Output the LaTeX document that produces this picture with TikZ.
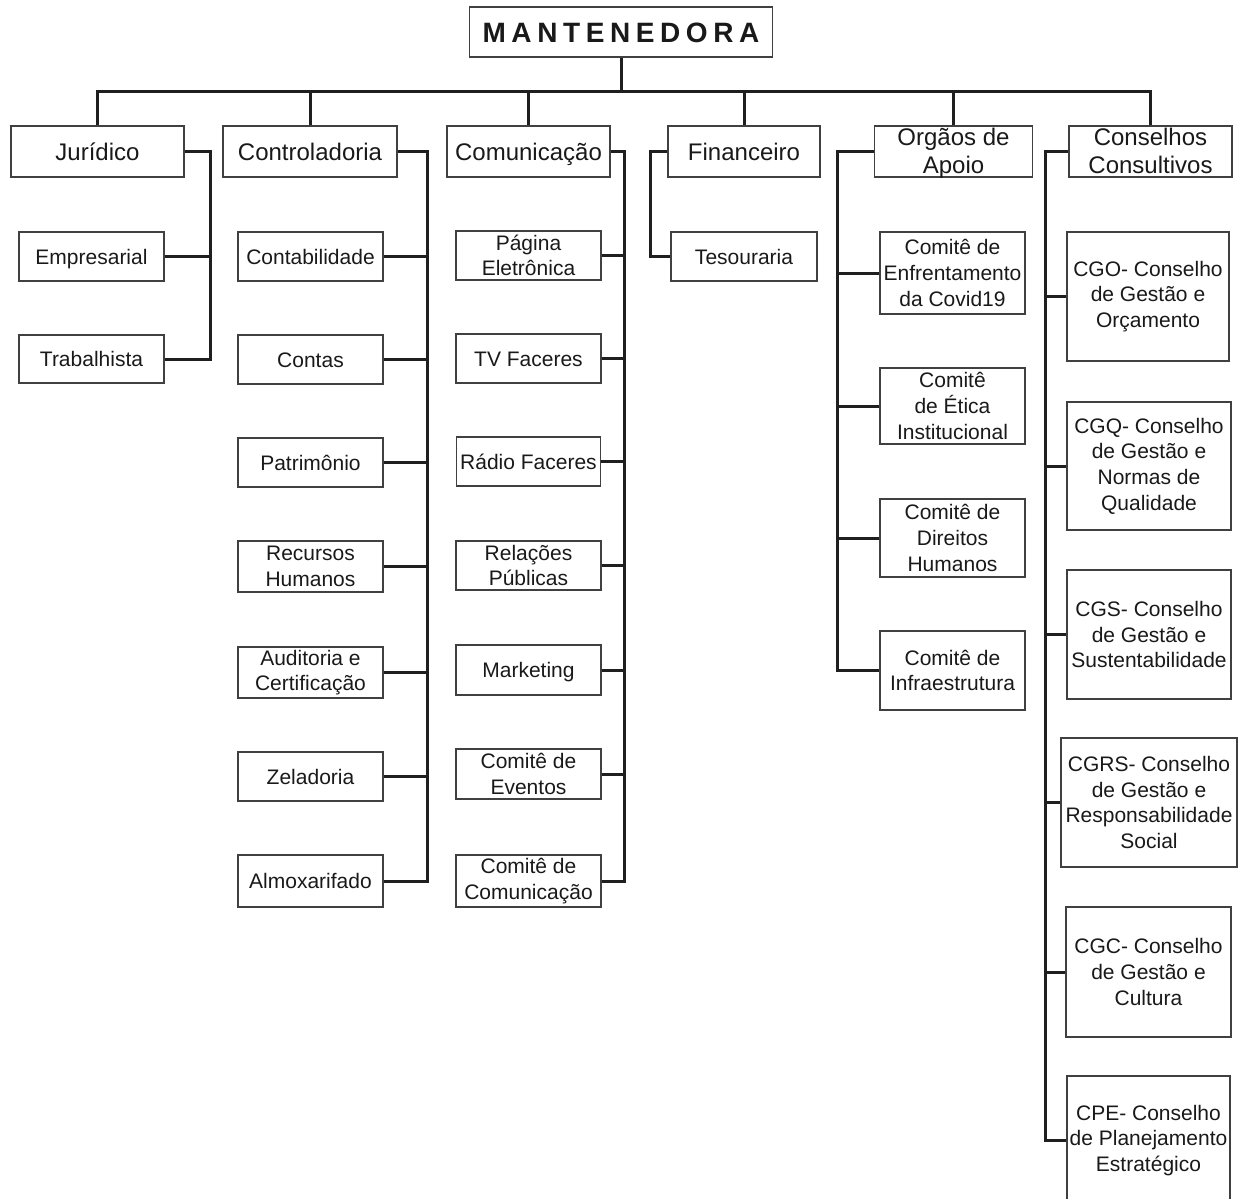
\documentclass[tikz,border=0pt]{standalone}
\usepackage{fontspec}
\setmainfont{Liberation Sans}
\begin{document}
\begin{tikzpicture}[x=0.5pt,y=-0.5pt,
  caixa/.style={draw=black!75,line width=0.7pt,text=black!90,align=center,inner sep=0pt},
  chefe/.style={caixa,font=\fontsize{12}{14}\selectfont,minimum height=25.5pt},
  setor/.style={caixa,font=\fontsize{10.5}{12.8}\selectfont},
  linha/.style={text height=7.5pt,text depth=0pt},
  linhag/.style={text height=8.6pt,text depth=0pt},
  liga/.style={draw=black!88,line width=1.5pt}]
\clip(0,0)rectangle(1238,1199);
% topo
\node[caixa,minimum width=151.5pt,minimum height=25pt,text height=10pt,text depth=0pt,font=\fontsize{14}{16}\selectfont\bfseries\addfontfeature{LetterSpace=20}](mant)at(621,32){MANTENEDORA};
\coordinate(barra)at(620,91);
% primeiro nivel
\node[chefe,linhag,minimum width=86.5pt](jur)at(97.5,151.5){Jurídico};
\node[chefe,linhag,minimum width=87pt](cont)at(310,151.5){Controladoria};
\node[chefe,linhag,minimum width=81.5pt](comu)at(528.5,151.5){Comunicação};
\node[chefe,linhag,minimum width=76pt](fin)at(744,151.5){Financeiro};
\node[chefe,minimum width=79pt](org)at(953.5,151.5){\raisebox{-11pt}[0pt][0pt]{\begin{tabular}[b]{@{}c@{}}Orgãos de\\Apoio\end{tabular}}};
\node[chefe,minimum width=81.5pt](cons)at(1150.5,151.5){\raisebox{-11pt}[0pt][0pt]{\begin{tabular}[b]{@{}c@{}}Conselhos\\Consultivos\end{tabular}}};
\draw[liga](mant.south)--(mant.south|-barra);
\draw[liga](jur.north)|-(cons.north|-barra)--(cons.north);
\draw[liga](cont.north)--(cont.north|-barra);
\draw[liga](comu.north)--(comu.north|-barra);
\draw[liga](fin.north)--(fin.north|-barra);
\draw[liga](org.north)--(org.north|-barra);
% Juridico
\node[setor,linha,minimum width=72.5pt,minimum height=24.5pt](emp)at(91.5,256.5){Empresarial};
\node[setor,linha,minimum width=72.5pt,minimum height=24pt](trab)at(91.5,359){Trabalhista};
\coordinate(jbus)at(210,0);
\draw[liga](jur.east)-|(jbus|-trab.east)--(trab.east);
\draw[liga](emp.east)--(jbus|-emp.east);
% Controladoria
\node[setor,linha,minimum width=72.5pt,minimum height=24.5pt](ctb)at(310.5,256.5){Contabilidade};
\node[setor,linha,minimum width=72.5pt,minimum height=24.5pt](ctas)at(310.5,359.5){Contas};
\node[setor,linha,minimum width=72.5pt,minimum height=24.5pt](pat)at(310.5,462.5){Patrimônio};
\node[setor,minimum width=72.5pt,minimum height=25.5pt](rh)at(310.5,566.5){Recursos\\Humanos};
\node[setor,minimum width=72.5pt,minimum height=25.5pt](aud)at(310.5,672.5){Auditoria e\\Certificação};
\node[setor,linha,minimum width=72.5pt,minimum height=24.5pt](zel)at(310.5,776.5){Zeladoria};
\node[setor,linha,minimum width=72.5pt,minimum height=26pt](alm)at(310.5,881){Almoxarifado};
\coordinate(cbus)at(427.5,0);
\draw[liga](cont.east)-|(cbus|-alm.east)--(alm.east);
\draw[liga](ctb.east)--(cbus|-ctb.east);
\draw[liga](ctas.east)--(cbus|-ctas.east);
\draw[liga](pat.east)--(cbus|-pat.east);
\draw[liga](rh.east)--(cbus|-rh.east);
\draw[liga](aud.east)--(cbus|-aud.east);
\draw[liga](zel.east)--(cbus|-zel.east);
% Comunicacao
\node[setor,minimum width=72.5pt,minimum height=24.5pt](pag)at(528.5,255.5){Página\\Eletrônica};
\node[setor,linha,minimum width=72.5pt,minimum height=24.5pt](tv)at(528.5,358.5){TV Faceres};
\node[setor,linha,minimum width=72pt,minimum height=24.5pt](radio)at(528.5,461.5){Rádio Faceres};
\node[setor,minimum width=72.5pt,minimum height=24.5pt](rp)at(528.5,565.5){Relações\\Públicas};
\node[setor,linha,minimum width=72.5pt,minimum height=25pt](mkt)at(528.5,670){Marketing};
\node[setor,minimum width=72.5pt,minimum height=25pt](evt)at(528.5,774){Comitê de\\Eventos};
\node[setor,minimum width=72.5pt,minimum height=26pt](ccom)at(528.5,881){Comitê de\\Comunicação};
\coordinate(mbus)at(624,0);
\draw[liga](comu.east)-|(mbus|-ccom.east)--(ccom.east);
\draw[liga](pag.east)--(mbus|-pag.east);
\draw[liga](tv.east)--(mbus|-tv.east);
\draw[liga](radio.east)--(mbus|-radio.east);
\draw[liga](rp.east)--(mbus|-rp.east);
\draw[liga](mkt.east)--(mbus|-mkt.east);
\draw[liga](evt.east)--(mbus|-evt.east);
% Financeiro
\node[setor,linha,minimum width=73pt,minimum height=24.5pt](tes)at(744,256.5){Tesouraria};
\coordinate(fbus)at(650,0);
\draw[liga](fin.west)-|(fbus|-tes.west)--(tes.west);
% Orgaos de Apoio
\node[setor,minimum width=72.5pt,minimum height=41pt](covid)at(952.5,273){Comitê de\\Enfrentamento\\da Covid19};
\node[setor,minimum width=72.5pt,minimum height=38pt](etica)at(952.5,406){Comitê\\de Ética\\Institucional};
\node[setor,minimum width=72.5pt,minimum height=39pt](dir)at(952.5,538){Comitê de\\Direitos\\Humanos};
\node[setor,minimum width=72.5pt,minimum height=39.5pt](infra)at(952.5,670.5){Comitê de\\Infraestrutura};
\coordinate(obus)at(837,0);
\draw[liga](org.west)-|(obus|-infra.west)--(infra.west);
\draw[liga](covid.west)--(obus|-covid.west);
\draw[liga](etica.west)--(obus|-etica.west);
\draw[liga](dir.west)--(obus|-dir.west);
% Conselhos Consultivos
\node[setor,minimum width=81pt,minimum height=64.5pt](cgo)at(1148,296.5){CGO- Conselho\\de Gestão e\\Orçamento};
\node[setor,minimum width=82pt,minimum height=64pt](cgq)at(1149,466){CGQ- Conselho\\de Gestão e\\Normas de\\Qualidade};
\node[setor,minimum width=82pt,minimum height=64.5pt](cgs)at(1149,634.5){CGS- Conselho\\de Gestão e\\Sustentabilidade};
\node[setor,minimum width=88pt,minimum height=64.5pt](cgrs)at(1149,802.5){CGRS- Conselho\\de Gestão e\\Responsabilidade\\Social};
\node[setor,minimum width=82.5pt,minimum height=65pt](cgc)at(1148.5,972){CGC- Conselho\\de Gestão e\\Cultura};
\node[setor,minimum width=81.5pt,minimum height=64.5pt](cpe)at(1148.5,1140.5){CPE- Conselho\\de Planejamento\\Estratégico};
\coordinate(kbus)at(1045,0);
\draw[liga](cons.west)-|(kbus|-cpe.west)--(cpe.west);
\draw[liga](cgo.west)--(kbus|-cgo.west);
\draw[liga](cgq.west)--(kbus|-cgq.west);
\draw[liga](cgs.west)--(kbus|-cgs.west);
\draw[liga](cgrs.west)--(kbus|-cgrs.west);
\draw[liga](cgc.west)--(kbus|-cgc.west);
\end{tikzpicture}
\end{document}
